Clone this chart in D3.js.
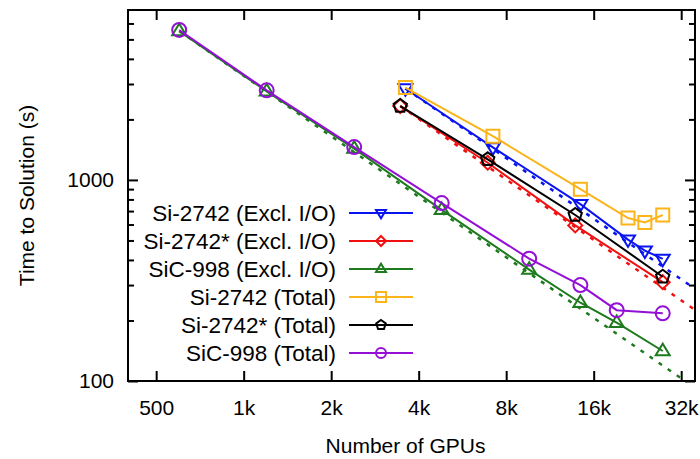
<!DOCTYPE html>
<html>
<head>
  <meta charset="UTF-8">
  <title>Strong scaling</title>
  <script src="https://d3js.org/d3.v7.min.js"></script>
  <style type="text/css">
    body { margin: 0; background: #fff; }
    text { font-family: "Liberation Sans", Arial, sans-serif; }
  </style>
</head>
<body>
<script type="text/javascript">

  //DATA
  var gpusSi = [3600, 7200, 14400, 21000, 24000, 27648];
  var gpusSiStar = [3456, 6912, 13824, 27648];
  var gpusSiC = [600, 1200, 2400, 4800, 9600, 14400, 19200, 27648];

  var siExcl = [2850, 1452, 758, 505, 445, 405];
  var siStarExcl = [2330, 1218, 594, 310];
  var sicExcl = [5500, 2758, 1432, 710, 358, 245, 195, 141];
  var siTotal = [2880, 1651, 899, 646, 615, 669];
  var siStarTotal = [2330, 1266, 669, 330];
  var sicTotal = [5570, 2790, 1457, 767, 406, 300, 225, 217];

  var seriesNames = ["Si-2742 (Excl. I/O)", "Si-2742* (Excl. I/O)", "SiC-998 (Excl. I/O)",
                     "Si-2742 (Total)", "Si-2742* (Total)", "SiC-998 (Total)"];

  var xTickValues = [500, 1000, 2000, 4000, 8000, 16000, 32000];
  var xTickLabels = ["500", "1k", "2k", "4k", "8k", "16k", "32k"];
  var yMajorTicks = [100, 1000];
  var yMinorTicks = [200, 300, 400, 500, 600, 700, 800, 900, 2000, 3000, 4000, 5000, 6000];

  //series table built from the arrays above
  var series = [
    {name: seriesNames[0], x: gpusSi,     y: siExcl,      color: "#0a14f0", marker: "triDown", ideal: true},
    {name: seriesNames[1], x: gpusSiStar, y: siStarExcl,  color: "#f01010", marker: "diamond", ideal: true},
    {name: seriesNames[2], x: gpusSiC,    y: sicExcl,     color: "#1d7a1d", marker: "triUp",   ideal: true},
    {name: seriesNames[3], x: gpusSi,     y: siTotal,     color: "#fbb41a", marker: "square"},
    {name: seriesNames[4], x: gpusSiStar, y: siStarTotal, color: "#000000", marker: "pentagon"},
    {name: seriesNames[5], x: gpusSiC,    y: sicTotal,    color: "#9410d6", marker: "circle"}
  ];

  //set up svg size and margin
  var margin = {top: 10, right: 5, bottom: 78, left: 128},
      width = 700 - margin.left - margin.right,
      height = 459 - margin.top - margin.bottom;

  var x = d3.scaleLog().domain([400, 35700]).range([0, width]);
  var y = d3.scaleLog().domain([100, 7000]).range([height, 0]);

  var svg = d3.select("body")
      .append("svg")
        .attr("width", width + margin.left + margin.right)
        .attr("height", height + margin.top + margin.bottom)
      .append("g")
        .attr("transform", "translate(" + margin.left + "," + margin.top + ")");

  svg.append("clipPath").attr("id", "plot-clip")
    .append("rect").attr("width", width).attr("height", height);

  //marker shapes, s = half size
  function markerPath(type, s) {
    if (type === "circle") {
      return "M" + (-s) + ",0A" + s + "," + s + " 0 1,0 " + s + ",0A" + s + "," + s + " 0 1,0 " + (-s) + ",0Z";
    }
    if (type === "square") {
      return "M" + (-s) + "," + (-s) + "H" + s + "V" + s + "H" + (-s) + "Z";
    }
    if (type === "diamond") {
      return "M0," + (-s) + "L" + s + ",0L0," + s + "L" + (-s) + ",0Z";
    }
    if (type === "triDown") {
      return "M" + (-s) + "," + (-0.6 * s) + "L" + s + "," + (-0.6 * s) + "L0," + (1.05 * s) + "Z";
    }
    if (type === "triUp") {
      return "M" + (-s) + "," + (0.6 * s) + "L" + s + "," + (0.6 * s) + "L0," + (-1.05 * s) + "Z";
    }
    //pentagon
    var pts = d3.range(5).map(function (k) {
      var a = -Math.PI / 2 + k * 2 * Math.PI / 5;
      return [s * Math.cos(a), s * Math.sin(a)];
    });
    return "M" + pts.join("L") + "Z";
  }

  //AXES - ticks point inward on all four sides
  var xBottom = d3.axisBottom(x).tickValues(xTickValues)
      .tickFormat(function (d, i) { return xTickLabels[i]; })
      .tickSizeInner(-10).tickSizeOuter(0).tickPadding(19);
  var xTop = d3.axisTop(x).tickValues(xTickValues).tickFormat("")
      .tickSizeInner(-10).tickSizeOuter(0);
  var yLeft = d3.axisLeft(y).tickValues(yMajorTicks).tickFormat(d3.format("d"))
      .tickSizeInner(-10).tickSizeOuter(0).tickPadding(14);
  var yLeftMinor = d3.axisLeft(y).tickValues(yMinorTicks).tickFormat("")
      .tickSizeInner(-6).tickSizeOuter(0);
  var yRight = d3.axisRight(y).tickValues(yMajorTicks).tickFormat("")
      .tickSizeInner(-10).tickSizeOuter(0);
  var yRightMinor = d3.axisRight(y).tickValues(yMinorTicks).tickFormat("")
      .tickSizeInner(-6).tickSizeOuter(0);

  svg.append("g").attr("transform", "translate(0," + height + ")").call(xBottom);
  svg.append("g").call(xTop);
  svg.append("g").call(yLeft);
  svg.append("g").call(yLeftMinor);
  svg.append("g").attr("transform", "translate(" + width + ",0)").call(yRight);
  svg.append("g").attr("transform", "translate(" + width + ",0)").call(yRightMinor);

  svg.selectAll(".domain").remove();
  svg.selectAll(".tick line").attr("stroke", "#000").attr("stroke-width", 2);
  svg.selectAll(".tick text").attr("fill", "#000").style("font-size", "21px")
      .style("font-family", "'Liberation Sans', Arial, sans-serif");

  //ideal scaling lines (dashed), from first point of each Excl. I/O series
  var idealLine = d3.line()
      .x(function (d) { return x(d[0]); })
      .y(function (d) { return y(d[1]); });

  var plot = svg.append("g").attr("clip-path", "url(#plot-clip)");

  series.filter(function (s) { return s.ideal; }).forEach(function (s) {
    var n0 = s.x[0], t0 = s.y[0], nEnd = x.domain()[1];
    plot.append("path")
        .attr("d", idealLine([[n0, t0], [nEnd, t0 * n0 / nEnd]]))
        .attr("fill", "none")
        .attr("stroke", s.color)
        .attr("stroke-width", 2.5)
        .attr("stroke-dasharray", "4,7");
  });

  //data lines and markers
  var valueline = d3.line()
      .x(function (d) { return x(d.n); })
      .y(function (d) { return y(d.t); });

  series.forEach(function (s) {
    var pts = s.x.map(function (n, i) { return {n: n, t: s.y[i]}; });
    var g = plot.append("g");
    g.append("path")
        .attr("d", valueline(pts))
        .attr("fill", "none")
        .attr("stroke", s.color)
        .attr("stroke-width", 2);
    g.selectAll("path.mk").data(pts).enter().append("path")
        .attr("class", "mk")
        .attr("transform", function (d) { return "translate(" + x(d.n) + "," + y(d.t) + ")"; })
        .attr("d", markerPath(s.marker, s.marker === "square" ? 6.5 : 7))
        .attr("fill", "none")
        .attr("stroke", s.color)
        .attr("stroke-width", 2);
  });

  //FRAME
  svg.append("rect")
      .attr("width", width).attr("height", height)
      .attr("fill", "none").attr("stroke", "#000").attr("stroke-width", 2);

  //LEGEND
  var legend = svg.append("g").attr("transform", "translate(208,203)");
  series.forEach(function (s, i) {
    var row = legend.append("g").attr("transform", "translate(0," + (i * 28) + ")");
    row.append("text")
        .attr("x", 0).attr("y", 0)
        .attr("dy", "0.35em")
        .attr("text-anchor", "end")
        .style("font-size", "22.5px")
        .text(s.name);
    row.append("line")
        .attr("x1", 13).attr("x2", 77)
        .attr("stroke", s.color).attr("stroke-width", 2);
    row.append("path")
        .attr("transform", "translate(45,0)")
        .attr("d", markerPath(s.marker, 5))
        .attr("fill", "none")
        .attr("stroke", s.color)
        .attr("stroke-width", 2);
  });

  //AXIS TITLES
  svg.append("text")
      .attr("x", width / 2 - 6)
      .attr("y", height + 72)
      .attr("text-anchor", "middle")
      .style("font-size", "21px")
      .text("Number of GPUs");

  svg.append("text")
      .attr("transform", "translate(-94," + (height / 2) + ") rotate(-90)")
      .attr("text-anchor", "middle")
      .style("font-size", "21px")
      .text("Time to Solution (s)");

</script>
</body>
</html>
